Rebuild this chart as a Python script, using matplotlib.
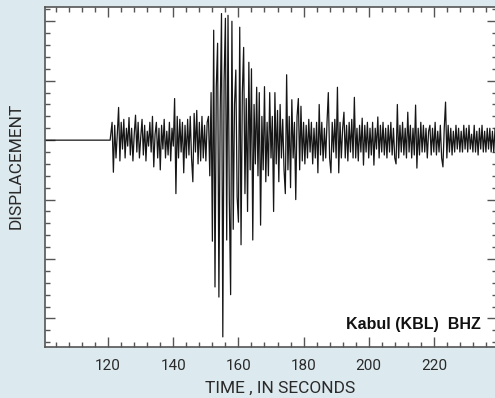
import matplotlib.pyplot as plt
import numpy as np
from matplotlib.ticker import MultipleLocator

# Seismogram, Kabul (KBL) BHZ
pre_time = [100.0, 120.6]
pre_disp = [0.0, 0.0]

t_start = 120.8   # first sample after onset, seconds
dt = 0.4          # sample spacing, seconds
disp = [
    # 120.8 - 126.4
    0.1, 0.3, -0.54, 0.25, -0.3, 0.1, 0.55, -0.35, 0.3, -0.15, 0.35, -0.3, 0.2, -0.1, 0.38,
    # 126.8 - 132.4
    -0.25, 0.2, -0.35, 0.1, 0.42, -0.2, 0.3, -0.3, 0.05, 0.35, -0.25, 0.25, -0.35, 0.15, -0.1,
    # 132.8 - 138.4
    0.3, -0.2, 0.4, -0.45, 0.1, 0.3, -0.3, 0.2, -0.5, 0.25, -0.15, 0.35, -0.3, 0.15, -0.25,
    # 138.8 - 144.4
    0.3, -0.35, 0.2, -0.1, 0.7, -0.9, 0.4, -0.3, 0.35, -0.2, 0.3, -0.55, 0.25, -0.3, 0.35,
    # 144.8 - 150.4
    -0.25, 0.4, -0.3, -0.7, 0.45, -0.2, 0.5, -0.4, 0.3, -0.35, 0.4, -0.3, 0.25, -0.35, 0.3,
    # 150.8 - 156.4
    0.4, -0.6, 0.8, -1.7, 1.85, -2.47, 0.9, 1.63, -2.64, 0.5, 2.13, -3.31, 1.0, 2.05, -1.68,
    # 156.8 - 162.4
    2.1, -1.0, -2.6, 2.0, -1.5, 0.6, 1.18, -0.96, -1.38, 1.9, -1.76, 0.8, 1.56, -0.9, 0.7,
    # 162.8 - 168.4
    -1.2, 1.31, -0.5, 1.2, -1.68, 0.6, -0.4, 0.89, -0.6, 0.8, -1.43, 0.4, -0.5, 0.9, -0.7,
    # 168.8 - 174.4
    0.3, -0.6, 0.8, -0.3, 0.4, -1.2, 0.8, -0.4, 0.5, -0.7, 0.6, -0.3, 0.35, -0.5, -0.9,
    # 174.8 - 180.4
    1.1, -0.5, 0.4, -0.8, 0.68, -0.3, 0.3, -1.0, 0.4, 0.7, -0.5, 0.57, -0.35, 0.3, -0.4,
    # 180.8 - 186.4
    0.25, -0.3, 0.35, -0.2, 0.3, -0.4, 0.2, -0.3, 0.3, -0.55, 0.6, -0.25, 0.3, -0.35, 0.2,
    # 186.8 - 192.4
    -0.3, 0.3, 0.8, -0.3, -0.55, 0.3, -0.2, 0.35, -0.3, 0.89, -0.55, 0.3, -0.3, 0.2, 0.47,
    # 192.8 - 198.4
    -0.3, 0.25, -0.35, 0.3, -0.2, 0.35, -0.3, 0.72, -0.3, 0.2, -0.35, 0.25, -0.2, 0.37, -0.42,
    # 198.8 - 204.4
    0.25, -0.2, 0.3, -0.3, 0.2, -0.25, 0.3, -0.42, 0.2, -0.15, 0.39, -0.3, 0.25, -0.2, 0.3,
    # 204.8 - 210.4
    -0.25, 0.2, -0.3, 0.25, -0.2, 0.3, -0.25, 0.2, -0.3, -0.4, 0.6, -0.3, 0.25, -0.2, 0.3,
    # 210.8 - 216.4
    -0.25, 0.2, -0.3, 0.47, -0.2, 0.25, -0.3, 0.2, -0.25, 0.59, -0.47, 0.2, -0.25, 0.3, -0.2,
    # 216.8 - 222.4
    0.25, -0.2, 0.2, -0.3, 0.15, 0.25, -0.25, 0.2, -0.2, 0.3, -0.25, 0.15, -0.2, 0.25, -0.3,
    # 222.8 - 228.4
    -0.45, 0.2, 0.64, -0.3, 0.25, -0.2, 0.2, -0.25, 0.15, -0.2, 0.25, -0.15, 0.2, -0.2, 0.15,
    # 228.8 - 234.4
    -0.2, 0.25, -0.15, 0.2, -0.2, 0.25, -0.15, 0.1, -0.2, 0.25, -0.2, 0.15, -0.25, 0.2, -0.15,
    # 234.8 - 239.2
    0.25, -0.2, 0.15, -0.2, 0.2, -0.15, 0.2, -0.2, 0.15, -0.2, 0.2, -0.15,
]

time = np.concatenate([pre_time, t_start + dt * np.arange(len(disp))])
values = np.concatenate([pre_disp, disp])

bg = "#dce9ee"
label_font = "Roboto"
text_col = "#2a2a2a"

fig = plt.figure(figsize=(4.95, 3.98), dpi=100, facecolor=bg)
ax = fig.add_axes([45 / 495, 1 - 347 / 398, 452 / 495, 340 / 398])
ax.set_facecolor("white")

ax.plot(time, values, color="#161616", lw=0.9)

ax.set_xlim(100.6, 239.4)
ax.set_ylim(-3.48, 2.24)

ax.xaxis.set_major_locator(MultipleLocator(20))
ax.xaxis.set_minor_locator(MultipleLocator(4))
ax.yaxis.set_major_locator(MultipleLocator(1))
ax.yaxis.set_minor_locator(MultipleLocator(0.2))
ax.tick_params(which="both", direction="in", top=True, right=True,
               color="#555555", width=1)
ax.tick_params(which="major", length=7)
ax.tick_params(which="minor", length=3.5)
ax.tick_params(axis="x", labelsize=11, pad=9, labelcolor=text_col)
ax.set_yticklabels([])
for lbl in ax.get_xticklabels():
    lbl.set_family(label_font)
for s in ax.spines.values():
    s.set_color("#555555")
    s.set_linewidth(1.2)

fig.text(280 / 495, 1 - 388 / 398, "TIME , IN SECONDS", fontsize=12.5,
         family=label_font, color=text_col, ha="center", va="center")
fig.text(16 / 495, 1 - 166 / 398, "DISPLACEMENT", rotation=90, fontsize=12.5,
         family=label_font, color=text_col, ha="center", va="center")

ax.text(0.9646, 0.053, "Kabul (KBL)  BHZ", transform=ax.transAxes,
        ha="right", va="baseline", fontsize=11.5, fontweight="bold",
        family="Liberation Sans", color="#111111")

fig.savefig("out.png", dpi=100, facecolor=bg)
